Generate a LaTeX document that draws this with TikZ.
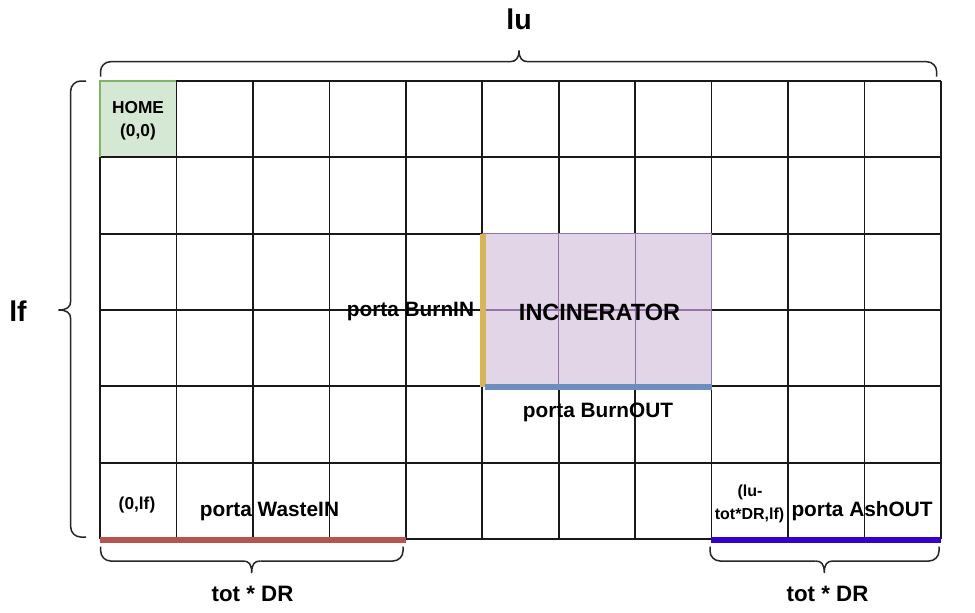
\documentclass[tikz,border=0pt]{standalone}
\usepackage{fontspec}
\setmainfont{Liberation Sans}
\definecolor{homefill}{HTML}{D5E8D4}
\definecolor{homeline}{HTML}{82B366}
\definecolor{incfill}{HTML}{E1D5E7}
\definecolor{incline}{HTML}{9673A6}
\definecolor{portred}{HTML}{B85450}
\definecolor{portyellow}{HTML}{D6B656}
\definecolor{portblue}{HTML}{6C8EBF}
\definecolor{portviolet}{HTML}{3300CC}
\tikzset{
  gridline/.style={line width=1.7pt,black!90},
  bracestyle/.style={line width=1.5pt,black!85},
  lbl/.style={inner sep=0pt,anchor=base,font=\bfseries\fontsize{20.8}{24}\selectfont},
  small/.style={inner sep=0pt,anchor=base,font=\bfseries\fontsize{17.3}{20}\selectfont},
  tiny/.style={inner sep=0pt,anchor=base,font=\bfseries\fontsize{16}{19}\selectfont},
  big/.style={inner sep=0pt,anchor=base,font=\bfseries\fontsize{28.5}{32}\selectfont},
  dim/.style={inner sep=0pt,anchor=base,font=\bfseries\fontsize{22.3}{26}\selectfont},
  port/.style={line width=6pt}
}
\begin{document}
\begin{tikzpicture}[x=1pt,y=-1pt]
\useasboundingbox[fill=white] (0,0) rectangle (975,613);
% home cell fill
\fill[homefill] (100,81) rectangle (176.45,157.3);
% grid
\foreach \i in {0,...,11} {
  \draw[gridline] ({100+\i*76.45},81) -- ({100+\i*76.45},539);
}
\foreach \j in {0,...,6} {
  \draw[gridline] (100,{81+\j*76.33}) -- (941,{81+\j*76.33});
}
% home border
\draw[line width=1.7pt,homeline] (100,157.3) -- (100,81) -- (176.45,81);
% incinerator
\fill[incfill] (482.25,233.66) rectangle (711.6,386.65);
\draw[line width=1.3pt,incline] (482.25,233.66) rectangle (711.6,386.65);
\draw[line width=1.3pt,incline] (558.7,233.66) -- (558.7,386.65);
\draw[line width=1.3pt,incline] (635.15,233.66) -- (635.15,386.65);
\draw[line width=1.3pt,incline] (482.25,310) -- (711.6,310);
% ports
\draw[port,portyellow] (482.5,233.66) -- (482.5,387);
\draw[port,portblue] (485,387) -- (711.6,387);
\draw[port,portred] (100,540) -- (405.8,540);
\draw[port,portviolet] (711,540) -- (941,540);
% top brace
\draw[bracestyle,rounded corners=10pt] (100.5,76.5) -- (100.5,61.7) -- (510,61.7);
\draw[bracestyle] (510,61.7) .. controls (516,61.7) and (519,58) .. (519,50.5)
   .. controls (519,58) and (522,61.7) .. (528,61.7);
\draw[bracestyle,rounded corners=10pt] (528,61.7) -- (936.7,61.7) -- (936.7,76.5);
% left brace
\draw[bracestyle,rounded corners=10pt] (86,81) -- (70.7,81) -- (70.7,301);
\draw[bracestyle] (70.7,301) .. controls (70.7,307) and (67,310) .. (58.5,310)
   .. controls (67,310) and (70.7,313) .. (70.7,319);
\draw[bracestyle,rounded corners=10pt] (70.7,319) -- (70.7,537) -- (86,537);
% bottom-left brace
\draw[bracestyle,rounded corners=10pt] (100.7,546.5) -- (100.7,561) -- (243,561);
\draw[bracestyle] (243,561) .. controls (249,561) and (251.7,564) .. (251.7,573)
   .. controls (251.7,564) and (254.4,561) .. (260.4,561);
\draw[bracestyle,rounded corners=10pt] (260.4,561) -- (403,561) -- (403,546.5);
% bottom-right brace
\draw[bracestyle,rounded corners=10pt] (710,546.5) -- (710,561) -- (815.5,561);
\draw[bracestyle] (815.5,561) .. controls (821.5,561) and (824.3,564) .. (824.3,573)
   .. controls (824.3,564) and (827,561) .. (833,561);
\draw[bracestyle,rounded corners=10pt] (833,561) -- (939,561) -- (939,546.5);
% texts
\node[small] (home) at (138,113.3) {HOME};
\node[small] (homexy) at (138,136.5) {(0,0)};
\node[small] (wastexy) at (137,509.5) {(0,lf)};
\node[lbl] (wastein) at (269.5,516.7) {porta WasteIN};
\node[lbl] (burnin) at (410.5,316.7) {porta BurnIN};
\node[inner sep=0pt,anchor=base,font=\bfseries\fontsize{23.5}{27}\selectfont] (inc) at (599.5,320.7) {INCINERATOR};
\node[lbl] (burnout) at (598,417.5) {porta BurnOUT};
\node[tiny] (ashxy1) at (750,496.5) {(lu-};
\node[tiny] (ashxy2) at (749.5,519) {tot*DR,lf)};
\node[lbl] (ashout) at (862,516.7) {porta AshOUT};
\node[big] (lu) at (519,29.3) {lu};
\node[big] (lf) at (18,321.7) {lf};
\node[dim] (dr1) at (252.5,601.7) {tot * DR};
\node[dim] (dr2) at (827.5,601.7) {tot * DR};
\end{tikzpicture}
\end{document}
